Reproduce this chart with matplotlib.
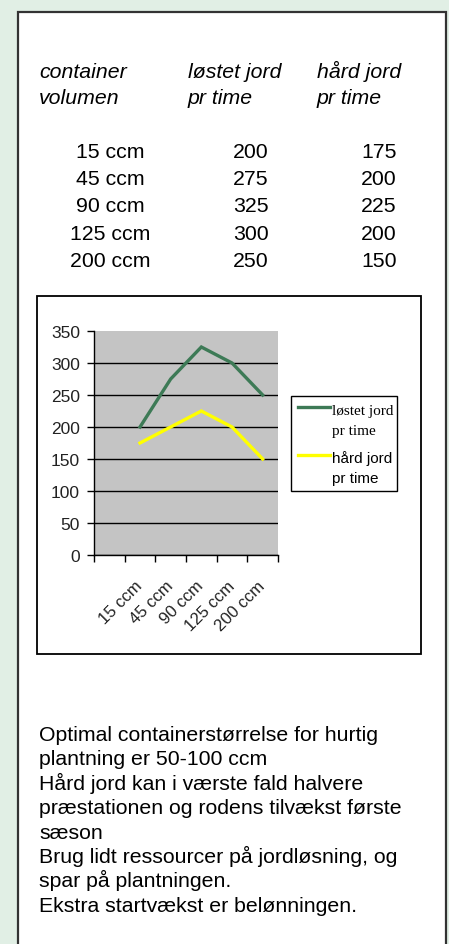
import numpy as np
import matplotlib
matplotlib.use("Agg")
import matplotlib.pyplot as plt
from matplotlib.patches import Rectangle
from matplotlib.lines import Line2D

plt.rcParams['font.family'] = ['Liberation Sans', 'DejaVu Sans']

# data
volumen = ['15 ccm', '45 ccm', '90 ccm', '125 ccm', '200 ccm']
loestet = [200, 275, 325, 300, 250]
haard = [175, 200, 225, 200, 150]
serie_navne = [['løstet jord', 'pr time'], ['hård jord', 'pr time']]
serie_farver = ['#3d7a56', '#ffff00']
kolonne_hoved = [['container', 'volumen'], ['løstet jord', 'pr time'], ['hård jord', 'pr time']]
noter = [
    'Optimal containerstørrelse for hurtig',
    'plantning er 50-100 ccm',
    'Hård jord kan i værste fald halvere',
    'præstationen og rodens tilvækst første',
    'sæson',
    'Brug lidt ressourcer på jordløsning, og',
    'spar på plantningen.',
    'Ekstra startvækst er belønningen.',
]

W, H = 449, 945
fig = plt.figure(figsize=(W / 100, H / 100), dpi=100)
fig.patch.set_facecolor('#e1efe5')


def fx(x):
    return x / W


def fy(y):
    return 1 - y / H


def boks(x0, y0, x1, y1, **kw):
    fig.add_artist(Rectangle((fx(x0), fy(y1)), fx(x1) - fx(x0), fy(y0) - fy(y1),
                             transform=fig.transFigure, facecolor='white', **kw))


# white panel and chart frame, kept behind the axes
boks(18, 13, 446, 960, edgecolor='#333333', linewidth=1.6, zorder=-10)
boks(37, 297, 421, 655, edgecolor='black', linewidth=1.3, zorder=-9)

fs = 15.3

# table header
kol_x = [39, 188, 317]
for x, (t1, t2) in zip(kol_x, kolonne_hoved):
    fig.text(fx(x), fy(77.5), t1, fontsize=fs, style='italic', va='baseline')
    fig.text(fx(x), fy(104), t2, fontsize=fs, style='italic', va='baseline')

# table rows
rad_y = [158, 185, 212.5, 240, 267]
for y, v, a, b in zip(rad_y, volumen, loestet, haard):
    fig.text(fx(110.5), fy(y), v, fontsize=fs, ha='center', va='baseline')
    fig.text(fx(251), fy(y), str(a), fontsize=fs, ha='center', va='baseline')
    fig.text(fx(379), fy(y), str(b), fontsize=fs, ha='center', va='baseline')

# chart
ax = fig.add_axes([fx(94), fy(556), fx(278) - fx(94), fy(332) - fy(556)])
ax.set_facecolor('#c4c4c4')
x = np.arange(len(volumen))
for serie, farve in zip([loestet, haard], serie_farver):
    ax.plot(x, serie, color=farve, linewidth=2.4, solid_joinstyle='miter')

ax.set_xlim(-1.5, len(volumen) - 0.5)
ax.set_ylim(0, 350)
ax.set_yticks(np.arange(0, 351, 50))
ax.set_xticks(x)
ax.set_xticklabels(volumen, rotation=45, ha='right', va='center',
                   rotation_mode='anchor', fontsize=12, color='#222222')
ax.set_xticks(np.arange(-1.5, len(volumen), 1), minor=True)
ax.tick_params(axis='x', which='major', length=0, pad=20)
ax.tick_params(axis='x', which='minor', length=5, width=1, direction='out')
ax.tick_params(axis='y', length=5, width=1, direction='out', pad=5,
               labelsize=12.5, labelcolor='#222222')
ax.yaxis.grid(True, color='black', linewidth=1)
ax.set_axisbelow(True)
ax.get_ygridlines()[-1].set_visible(False)
for s in ['top', 'right']:
    ax.spines[s].set_visible(False)
for s in ['left', 'bottom']:
    ax.spines[s].set_color('black')
    ax.spines[s].set_linewidth(1)

# legend box
boks(291, 397, 397, 492, edgecolor='black', linewidth=1, zorder=5)
leg_y = [408, 456]
leg_font = ['Liberation Serif', 'Liberation Sans']
for y, (t1, t2), farve, fam in zip(leg_y, serie_navne, serie_farver, leg_font):
    fig.add_artist(Line2D([fx(298), fx(330)], [fy(y), fy(y)], color=farve,
                          linewidth=2.4, transform=fig.transFigure, zorder=6))
    fig.text(fx(332), fy(y + 7), t1, fontsize=11, family=fam, va='baseline', zorder=6)
    fig.text(fx(332), fy(y + 27), t2, fontsize=11, family=fam, va='baseline', zorder=6)

# notes below the chart
for i, linje in enumerate(noter):
    fig.text(fx(39), fy(741 + i * 24.4), linje, fontsize=fs, va='baseline')

fig.savefig('out.png', dpi=100, facecolor=fig.get_facecolor())
